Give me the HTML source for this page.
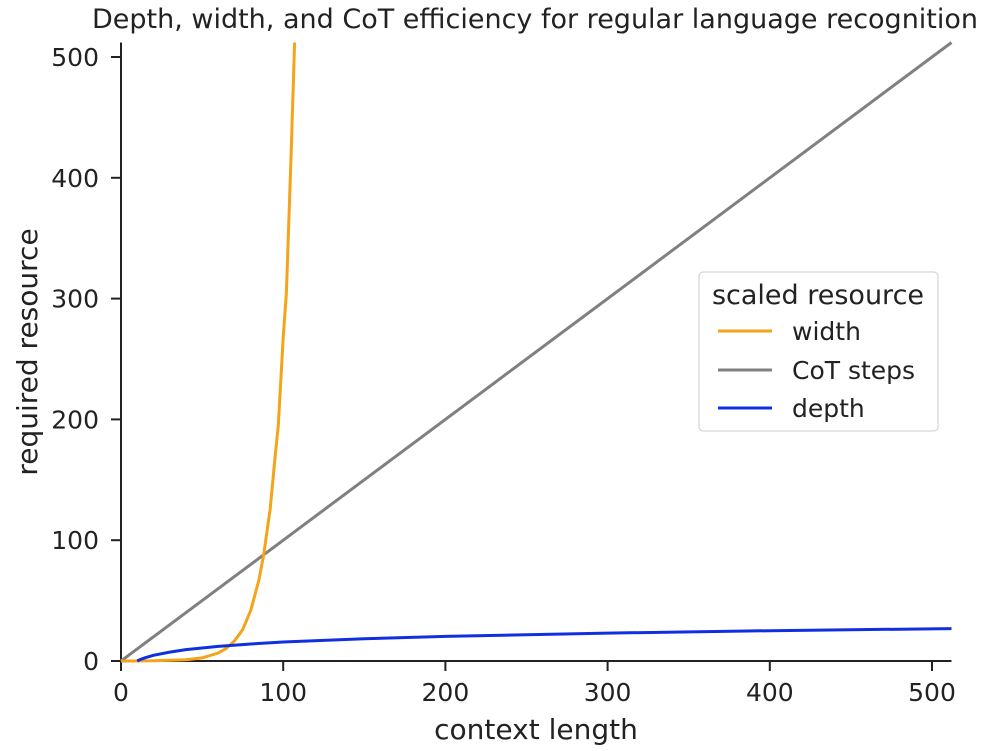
<!DOCTYPE html>
<html><head><meta charset="utf-8"><style>
body{margin:0;background:#fff;}
svg{display:block;font-family:"DejaVu Sans","Liberation Sans",sans-serif;}
</style></head><body>
<svg width="1000" height="751" viewBox="0 0 1000 751" id="chart">
<text x="535" y="28" text-anchor="middle" font-size="27" fill="#222">Depth, width, and CoT efficiency for regular language recognition</text>
<g id="axes"></g>
<g id="series"></g>
<g>
<rect x="699" y="272" width="239" height="159" rx="4" fill="#fff" stroke="#ccc"/>
<text x="818" y="304" text-anchor="middle" font-size="27" fill="#222">scaled resource</text>
<line x1="718" y1="331" x2="772" y2="331" stroke="#f5a31a" stroke-width="3"/>
<text x="792" y="340" font-size="25" fill="#222">width</text>
<line x1="718" y1="370" x2="772" y2="370" stroke="#808080" stroke-width="3"/>
<text x="792" y="379" font-size="25" fill="#222">CoT steps</text>
<line x1="718" y1="408" x2="772" y2="408" stroke="#1030e0" stroke-width="3"/>
<text x="792" y="417" font-size="25" fill="#222">depth</text>
</g>
</svg>
<script>
const xTicks=[0,100,200,300,400,500];
const yTicks=[0,100,200,300,400,500];
const cotX=[0,512];
const cotY=[0,512];
const widthX=[0,20,40,50,60,65,70,75,80,85,88,92,95,97,100,102,105,107];
const widthY=[0.03,0.16,1.0,2.6,6.6,10.5,16.6,26,42,67,88,126,169,195,268,305,424,512];
const depthX=[10,12,15,20,30,40,60,80,100,150,200,300,400,512];
const depthY=[0,1.3,2.7,4.7,7.4,9.4,12.1,14.1,15.7,18.4,20.4,23.1,25.1,26.8];
const X0=121,Y0=661,XS=(932-121)/500,YS=(661-57)/500;
const xs=v=>X0+v*XS, ys=v=>Y0-v*YS;
const NS="http://www.w3.org/2000/svg";
const ax=document.getElementById('axes'), se=document.getElementById('series');
function mk(tag,attrs,parent){const e=document.createElementNS(NS,tag);for(const k in attrs)e.setAttribute(k,attrs[k]);parent.appendChild(e);return e;}
let e=mk('line',{x1:X0,y1:Y0,x2:xs(512),y2:Y0,stroke:'#222','stroke-width':2},ax);


e=mk('line',{x1:X0,y1:Y0,x2:X0,y2:ys(512),stroke:'#222','stroke-width':2},ax);


xTicks.forEach(t=>{
 let l=mk('line',{x1:xs(t),y1:Y0,x2:xs(t),y2:Y0+10,stroke:'#222','stroke-width':2},ax);
 
 
 let tx=mk('text',{x:xs(t),y:Y0+40,'text-anchor':'middle','font-size':25,fill:'#222'},ax);
 tx.textContent=t;
 
 
});
yTicks.forEach(t=>{
 let l=mk('line',{x1:X0-10,y1:ys(t),x2:X0,y2:ys(t),stroke:'#222','stroke-width':2},ax);
 
 
 let tx=mk('text',{x:X0-22,y:ys(t)+9,'text-anchor':'end','font-size':25,fill:'#222'},ax);
 tx.textContent=t;
 
 
});
let xt=mk('text',{x:536,y:739,'text-anchor':'middle','font-size':28,fill:'#222'},ax);
xt.textContent='context length';


let yt=mk('text',{x:37,y:352,'text-anchor':'middle','font-size':28,fill:'#222',transform:'rotate(-90 37 352)'},ax);
yt.textContent='required resource';


function line(X,Y,color,name){
 const d=X.map((x,i)=>(i?'L':'M')+xs(x).toFixed(1)+','+ys(Y[i]).toFixed(1)).join(' ');
 const p=mk('path',{d:d,fill:'none',stroke:color,'stroke-width':3,'stroke-linejoin':'round'},se);
 
 
}
line(cotX,cotY,'#808080','cot-steps-line');
line(widthX,widthY,'#f5a31a','width-line');
line(depthX,depthY,'#1030e0','depth-line');
</script>
</body></html>
